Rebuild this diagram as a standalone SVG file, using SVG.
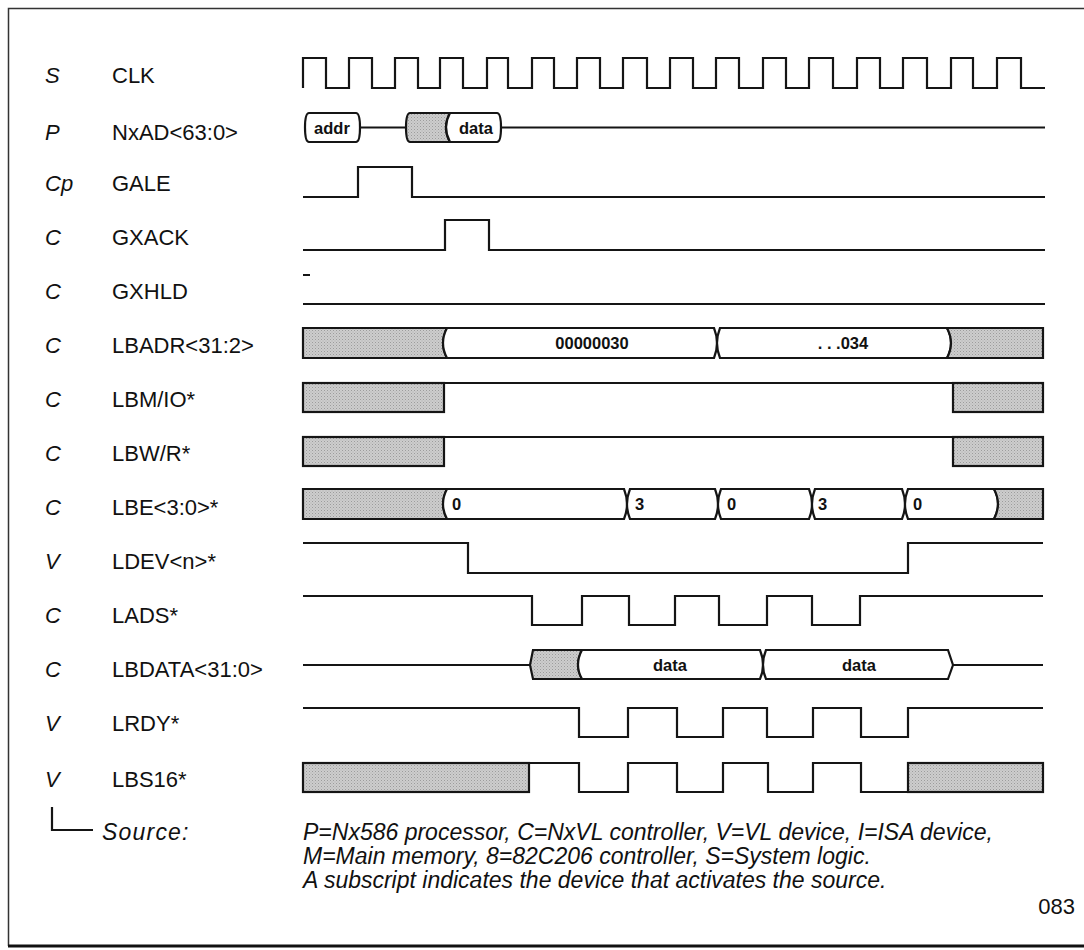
<svg xmlns="http://www.w3.org/2000/svg" width="1084" height="950" viewBox="0 0 1084 950">
<defs>
<pattern id="stip" width="3" height="3" patternUnits="userSpaceOnUse">
<rect width="3" height="3" fill="#cdcdcd"/>
<rect x="0" y="0" width="1" height="1" fill="#9c9c9c"/>
<rect x="1.5" y="1.5" width="1" height="1" fill="#b0b0b0"/>
</pattern>
</defs>
<style>
.bg{fill:#ffffff}
.frame{fill:none;stroke:#333;stroke-width:1.5}
.frameb{fill:none;stroke:#111;stroke-width:3}
.w{fill:none;stroke:#151515;stroke-width:2.2;stroke-linejoin:miter}
.g{fill:url(#stip);stroke:#151515;stroke-width:2.2}
.wf{fill:#ffffff;stroke:#151515;stroke-width:2.2}
.lbl{font-family:"Liberation Sans",Arial,sans-serif;font-size:22px;fill:#111}
.src{font-family:"Liberation Sans",Arial,sans-serif;font-size:22px;font-style:italic;fill:#111}
.leg{font-family:"Liberation Sans",Arial,sans-serif;font-size:23px;font-style:italic;fill:#111}
.bt{font-family:"Liberation Sans",Arial,sans-serif;font-size:16.5px;font-weight:bold;fill:#111}
.btc{font-family:"Liberation Sans",Arial,sans-serif;font-size:16.5px;font-weight:bold;fill:#111;text-anchor:middle}
</style>
<rect class="bg" x="0" y="0" width="1084" height="950"/>
<g id="frame">
<path class="frame" d="M1084,8.5 H8.5 V946"/>
<path class="frameb" d="M8,946 H1084"/>
</g>
<g id="labels">
<text class="src" x="45" y="83">S</text><text class="lbl" x="112" y="83">CLK</text>
<text class="src" x="45" y="140">P</text><text class="lbl" x="112" y="140">NxAD&lt;63:0&gt;</text>
<text class="src" x="45" y="191">Cp</text><text class="lbl" x="112" y="191">GALE</text>
<text class="src" x="45" y="245">C</text><text class="lbl" x="112" y="245">GXACK</text>
<text class="src" x="45" y="299">C</text><text class="lbl" x="112" y="299">GXHLD</text>
<text class="src" x="45" y="353">C</text><text class="lbl" x="112" y="353">LBADR&lt;31:2&gt;</text>
<text class="src" x="45" y="407">C</text><text class="lbl" x="112" y="407">LBM/IO*</text>
<text class="src" x="45" y="461">C</text><text class="lbl" x="112" y="461">LBW/R*</text>
<text class="src" x="45" y="515">C</text><text class="lbl" x="112" y="515">LBE&lt;3:0&gt;*</text>
<text class="src" x="45" y="569">V</text><text class="lbl" x="112" y="569">LDEV&lt;n&gt;*</text>
<text class="src" x="45" y="623">C</text><text class="lbl" x="112" y="623">LADS*</text>
<text class="src" x="45" y="677">C</text><text class="lbl" x="112" y="677">LBDATA&lt;31:0&gt;</text>
<text class="src" x="45" y="731">V</text><text class="lbl" x="112" y="731">LRDY*</text>
<text class="src" x="45" y="787">V</text><text class="lbl" x="112" y="787">LBS16*</text>
</g>
<g id="sig-clk">
<path class="w" d="M303,88 V58 H326 V88 H349 V58 H372 V88 H395 V58 H418 V88 H440 V58 H463 V88 H487 V58 H508 V88 H532 V58 H554 V88 H577 V58 H600 V88 H623 V58 H647 V88 H670 V58 H693 V88 H716 V58 H739 V88 H763 V58 H786 V88 H809 V58 H833 V88 H857 V58 H880 V88 H903 V58 H927 V88 H951 V58 H973 V88 H997 V58 H1021 V88 H1045"/>
</g>
<g id="sig-nxad">
<path class="w" d="M360,127.5 H406 M501,127.5 H1045"/>
<path class="wf" d="M309,113 H356 Q360,113 360,127.5 Q360,142 356,142 H309 Q305,142 305,127.5 Q305,113 309,113 Z"/>
<path class="g" d="M410,113 H450 Q442,127.5 450,142 H410 Q406,142 406,127.5 Q406,113 410,113 Z"/>
<path class="wf" d="M450,113 H497 Q501,113 501,127.5 Q501,142 497,142 H450 Q442,127.5 450,113 Z"/>
<text class="btc" x="332" y="134">addr</text>
<text class="btc" x="476" y="134">data</text>
</g>
<g id="sig-gale">
<path class="w" d="M303,197 H358 V167 H412 V197 H1045"/>
</g>
<g id="sig-gxack">
<path class="w" d="M303,250 H445 V220 H489 V250 H1045"/>
</g>
<g id="sig-gxhld">
<path class="w" d="M303,275 H310 M303,304 H1045"/>
</g>
<g id="sig-lbadr">
<path class="g" d="M303,328 H447 Q439,343 447,358 H303 Z"/>
<path class="wf" d="M447,328 H714 Q720,343 714,358 H447 Q439,343 447,328 Z"/>
<path class="wf" d="M720,328 H947 Q955,343 947,358 H720 Q714,343 720,328 Z"/>
<path class="g" d="M947,328 H1043 V358 H947 Q955,343 947,328 Z"/>
<text class="btc" x="592" y="349">00000030</text>
<text class="btc" x="843" y="349">. . .034</text>
</g>
<g id="sig-lbmio">
<rect class="g" x="303" y="383" width="141" height="29"/>
<path class="w" d="M444,383 H953"/>
<rect class="g" x="953" y="383" width="90" height="29"/>
</g>
<g id="sig-lbwr">
<rect class="g" x="303" y="437" width="141" height="29"/>
<path class="w" d="M444,437 H953"/>
<rect class="g" x="953" y="437" width="90" height="29"/>
</g>
<g id="sig-lbe">
<path class="g" d="M303,489 H447 Q439,504 447,519 H303 Z"/>
<path class="wf" d="M447,489 H624 Q630,504 624,519 H447 Q439,504 447,489 Z"/>
<path class="wf" d="M630,489 H715 Q721,504 715,519 H630 Q624,504 630,489 Z"/>
<path class="wf" d="M721,489 H809 Q815,504 809,519 H721 Q715,504 721,489 Z"/>
<path class="wf" d="M815,489 H902 Q908,504 902,519 H815 Q809,504 815,489 Z"/>
<path class="wf" d="M908,489 H994 Q1002,504 994,519 H908 Q902,504 908,489 Z"/>
<path class="g" d="M994,489 H1043 V519 H994 Q1002,504 994,489 Z"/>
<text class="bt" x="452" y="510">0</text>
<text class="bt" x="635" y="510">3</text>
<text class="bt" x="727" y="510">0</text>
<text class="bt" x="818" y="510">3</text>
<text class="bt" x="913" y="510">0</text>
</g>
<g id="sig-ldev">
<path class="w" d="M303,543 H468 V573 H908 V543 H1043"/>
</g>
<g id="sig-lads">
<path class="w" d="M303,596 H532 V625 H582 V596 H629 V625 H675 V596 H719 V625 H767 V596 H812 V625 H860 V596 H1043"/>
</g>
<g id="sig-lbdata">
<path class="w" d="M303,665 H530 M953,665 H1043"/>
<path class="g" d="M533,650 H582 Q574,665 582,679 H533 L530,665 Z"/>
<path class="wf" d="M582,650 H760 Q766,665 760,679 H582 Q574,665 582,650 Z"/>
<path class="wf" d="M766,650 H948 L953,665 L948,679 H766 Q760,665 766,650 Z"/>
<text class="btc" x="670" y="671">data</text>
<text class="btc" x="859" y="671">data</text>
</g>
<g id="sig-lrdy">
<path class="w" d="M303,708 H579 V737 H628 V708 H677 V737 H723 V708 H767 V737 H813 V708 H861 V737 H908 V708 H1043"/>
</g>
<g id="sig-lbs16">
<rect class="g" x="303" y="763" width="226" height="29"/>
<path class="w" d="M529,763 H579 V792 H628 V763 H677 V792 H723 V763 H768 V792 H813 V763 H861 V792 H908"/>
<rect class="g" x="908" y="763" width="135" height="29"/>
</g>
<g id="legend">
<path class="w" d="M52,807 V830 H93"/>
<text class="leg" x="102" y="840" letter-spacing="1.2">Source:</text>
<text class="leg" x="303" y="840">P=Nx586 processor, C=NxVL controller, V=VL device, I=ISA device,</text>
<text class="leg" x="303" y="864">M=Main memory, 8=82C206 controller, S=System logic.</text>
<text class="leg" x="303" y="888">A subscript indicates the device that activates the source.</text>
<text class="lbl" x="1075" y="914" text-anchor="end">083</text>
</g>
</svg>
